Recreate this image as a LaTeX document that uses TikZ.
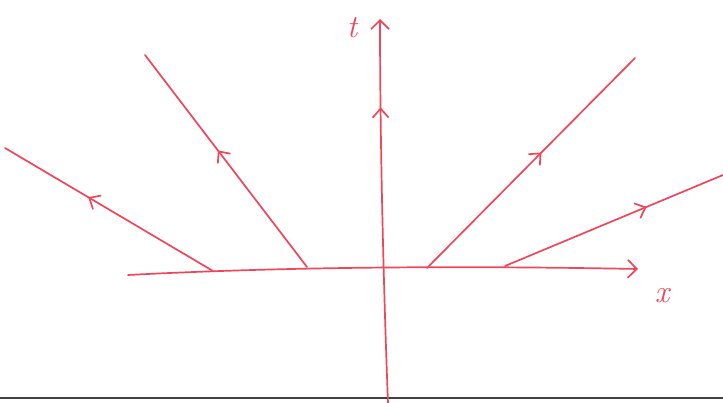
\documentclass[tikz,border=0pt]{standalone}
\usetikzlibrary{arrows.meta,decorations.markings}
\definecolor{pen}{RGB}{240,70,92}
\tikzset{
  penline/.style={draw=pen,line width=1.7pt,line cap=round},
  midarrow/.style={postaction={decorate},decoration={markings,mark=at position #1 with {\arrow{Straight Barb[length=9pt,width=16pt,line width=1.7pt]}}}},
  tiparrow/.style={-{Straight Barb[length=9pt,width=18pt,line width=1.7pt]}},
  lab/.style={text=pen,font=\fontsize{32}{32}\selectfont\itshape}
}
\begin{document}
\begin{tikzpicture}[x=1pt,y=-1pt]
\useasboundingbox (0,0) rectangle (723,403);
\fill[white] (0,0) rectangle (723,403);
% coordinates
\coordinate (xa) at (128,275);
\coordinate (xb) at (638,269);
\coordinate (ta) at (388,403);
\coordinate (tb) at (380,19);
\coordinate (s1) at (213,271);
\coordinate (e1) at (5,148);
\coordinate (s2) at (307,267);
\coordinate (e2) at (145,55);
\coordinate (s3) at (427,268);
\coordinate (e3) at (635,58);
\coordinate (s4) at (505,266);
\coordinate (e4) at (723,175);
\coordinate (bl) at (0,398);
\coordinate (br) at (723,398);
% bottom page edge
\draw[black!75,line width=1.8pt] (bl) -- (br);
% axes
\draw[penline,tiparrow] (xa) .. controls (300,266) and (480,266) .. (xb);
\draw[penline,tiparrow,midarrow=0.77] (ta) .. controls (384,300) and (380,150) .. (tb);
% characteristic lines
\draw[penline,midarrow=0.6] (s1) -- (e1);
\draw[penline,midarrow=0.55] (s2) -- (e2);
\draw[penline,midarrow=0.55] (s3) -- (e3);
\draw[penline,midarrow=0.65] (s4) -- (e4);
% labels
\node[lab] (tl) at (352,28) {t};
\node[lab] (xl) at (662,296) {x};
\end{tikzpicture}
\end{document}
